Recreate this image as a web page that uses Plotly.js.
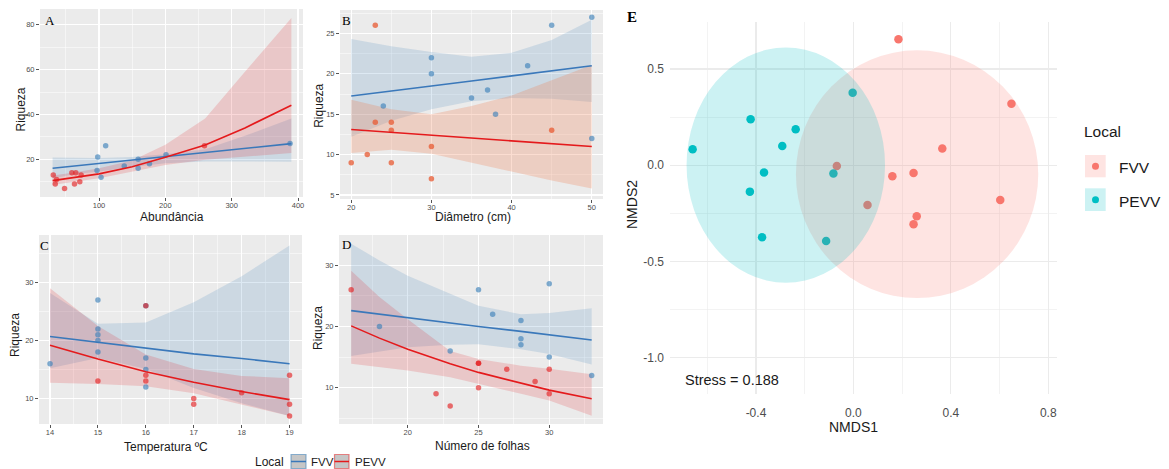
<!DOCTYPE html>
<html><head><meta charset="utf-8">
<script src="https://cdn.plot.ly/plotly-3.0.1.min.js"></script>
<style>html,body{margin:0;padding:0;background:#fff}#chart{width:1169px;height:469px}</style>
</head><body><div id="chart"></div>
<script>
// ---------- Panel A : Riqueza vs Abundância ----------
const aFvvX=[97,98,103,110,138,159,159,176,201,388];
const aFvvY=[15,21,12,26,17,20,16,18,22,27];
const aPevvX=[31,34,36,48,59,63,65,71,73,259];
const aPevvY=[13,9,11,7,14,9,14,10,13,26];
const aFitX=[30,60,100,150,200,260,320,390];
const aFvvFit=[16,16.9,18.1,19.7,21.2,23.0,24.9,27.0];
const aFvvLo=[11.5,13.2,14.6,16.6,18.2,19.0,19.0,18.9];
const aFvvHi=[20.8,20.7,20.6,21.0,22.3,24.5,30.5,38.2];
const aPevvFit=[10.5,11.7,13.5,16.7,20.9,26.4,34.0,44.1];
const aPevvLo=[8.6,9.9,11.6,14.5,17.5,19.8,21.3,22.8];
const aPevvHi=[12.8,14.0,16.0,19.5,26.5,38.2,59.0,83.0];

// ---------- Panel B : Riqueza vs Diâmetro ----------
const bFvvX=[24,30,30,35,37,38,42,45,50,50];
const bFvvY=[16,22,20,17,18,15,21,26,27,12];
const bPevvX=[20,22,23,23,25,25,25,30,30,45];
const bPevvY=[9,10,26,14,14,13,9,11,7,13];
const bFitX=[20,25,30,35,40,45,50];
const bFvvFit=[17.25,17.9,18.5,19.1,19.75,20.4,21.0];
const bFvvLo=[12.2,14.2,15.6,16.6,17.0,16.9,16.5];
const bFvvHi=[24.3,23.4,22.7,22.1,22.6,24.2,26.7];
const bPevvFit=[13.1,12.75,12.4,12.05,11.7,11.35,11.0];
const bPevvLo=[10.2,10.6,10.1,9.0,7.9,6.8,5.8];
const bPevvHi=[16.8,15.6,15.0,16.0,17.3,19.2,21.1];

// ---------- Panel C : Riqueza vs Temperatura ----------
const cFvvX=[14,15,15,15,15,15,16,16,16,16];
const cFvvY=[16,27,22,21,20,18,26,17,15,12];
const cPevvX=[15,16,16,16,17,17,18,19,19,19];
const cPevvY=[13,26,14,13,10,9,11,14,9,7];
const cFitX=[14,15,16,17,18,19];
const cFvvFit=[20.7,19.7,18.7,17.7,16.9,16.0];
const cFvvLo=[15.2,17.0,15.1,11.8,9.2,7.0];
const cFvvHi=[28.2,22.9,23.1,26.6,31.1,36.4];
const cPevvFit=[19.2,16.8,14.6,12.8,11.2,9.8];
const cPevvLo=[12.7,12.5,12.1,10.9,9.0,7.0];
const cPevvHi=[29.0,22.5,17.6,15.1,13.9,13.5];

// ---------- Panel D : Riqueza vs Número de folhas ----------
const dFvvX=[18,23,25,26,28,28,28,30,30,33];
const dFvvY=[20,16,26,22,21,18,17,27,15,12];
const dPevvX=[16,22,23,25,25,25,27,29,30,30];
const dPevvY=[26,9,7,14,14,10,13,11,13,9];
const dFitX=[16,18,20,23,25,28,30,33];
const dFvvFit=[22.6,22.0,21.5,20.6,20.0,19.2,18.6,17.8];
const dFvvLo=[15.2,15.9,16.6,17.0,17.1,16.3,15.5,13.8];
const dFvvHi=[33.5,30.8,28.3,25.3,23.4,22.0,22.2,23.0];
const dPevvFit=[20.1,18.1,16.3,13.9,12.5,10.7,9.6,8.2];
const dPevvLo=[13.9,13.3,12.8,11.7,10.6,9.0,7.9,5.4];
const dPevvHi=[29.1,24.8,21.2,16.0,14.7,13.6,13.1,12.2];

// ---------- Panel E : NMDS ----------
const eFvvX=[0.185,0.649,0.365,0.247,0.16,-0.068,0.058,0.603,0.26,0.247];
const eFvvY=[0.654,0.32,0.087,-0.04,-0.057,-0.004,-0.206,-0.18,-0.265,-0.306];
const ePevvX=[-0.66,-0.422,-0.237,-0.292,-0.003,-0.367,-0.425,-0.082,-0.375,-0.112];
const ePevvY=[0.083,0.239,0.187,0.1,0.377,-0.038,-0.137,-0.043,-0.374,-0.393];
const eFvvEllX=[-0.236,0.759], eFvvEllY=[-0.69,0.597];
const ePevvEllX=[-0.685,0.13], ePevvEllY=[-0.61,0.611];
const eXTicks=[-0.4,0,0.4,0.8], eXTickText=['-0.4','0.0','0.4','0.8'];
const eYTicks=[-1,-0.5,0,0.5], eYTickText=['-1.0','-0.5','0.0','0.5'];
const groups=['FVV','PEVV'];
const stressText='Stress = 0.188';

// ---------- layout helpers ----------
const W=1169,H=469;
const SANS='Liberation Sans, Arial, sans-serif';
const SERIF='Liberation Serif, Times New Roman, serif';
const fx=p=>p/W, fy=p=>1-p/H;
const BLUE='#3a78ba', RED='#e41a1c';

function ribbon(xs,lo,hi,xa,ya,fill){
  return {type:'scatter',mode:'lines',x:xs.concat(xs.slice().reverse()),
    y:hi.concat(lo.slice().reverse()),fill:'toself',fillcolor:fill,
    line:{width:0,color:'rgba(0,0,0,0)'},hoverinfo:'skip',xaxis:xa,yaxis:ya,showlegend:false};
}
function pts(xs,ys,xa,ya,col,size){
  return {type:'scatter',mode:'markers',x:xs,y:ys,xaxis:xa,yaxis:ya,showlegend:false,
    marker:{color:col,size:size,line:{width:0}}};
}
function line(xs,ys,xa,ya,col){
  return {type:'scatter',mode:'lines',x:xs,y:ys,xaxis:xa,yaxis:ya,showlegend:false,
    line:{color:col,width:1.6}};
}
function panel(xa,ya,fitX,fFit,fLo,fHi,pFit,pLo,pHi,fX,fY,pX,pY,pCol,pRib){
  return [
    ribbon(fitX,fLo,fHi,xa,ya,'rgba(55,126,184,0.17)'),
    ribbon(fitX,pLo,pHi,xa,ya,pRib),
    pts(fX,fY,xa,ya,'rgba(55,126,184,0.62)',5.5),
    pts(pX,pY,xa,ya,pCol,5.5),
    line(fitX,fFit,xa,ya,BLUE),
    line(fitX,pFit,xa,ya,RED)
  ];
}
const redPt='rgba(228,26,28,0.62)', redRib='rgba(228,26,28,0.17)';
const orPt='rgba(232,90,50,0.75)', orRib='rgba(240,120,70,0.25)';

let data=[];
data=data.concat(panel('x','y',aFitX,aFvvFit,aFvvLo,aFvvHi,aPevvFit,aPevvLo,aPevvHi,aFvvX,aFvvY,aPevvX,aPevvY,redPt,redRib));
data=data.concat(panel('x2','y2',bFitX,bFvvFit,bFvvLo,bFvvHi,bPevvFit,bPevvLo,bPevvHi,bFvvX,bFvvY,bPevvX,bPevvY,orPt,orRib));
data=data.concat(panel('x3','y3',cFitX,cFvvFit,cFvvLo,cFvvHi,cPevvFit,cPevvLo,cPevvHi,cFvvX,cFvvY,cPevvX,cPevvY,redPt,redRib));
data=data.concat(panel('x4','y4',dFitX,dFvvFit,dFvvLo,dFvvHi,dPevvFit,dPevvLo,dPevvHi,dFvvX,dFvvY,dPevvX,dPevvY,redPt,redRib));
data.push(pts(eFvvX,eFvvY,'x5','y5','#F8766D',8.5));
data.push(pts(ePevvX,ePevvY,'x5','y5','#00BFC4',8.5));

const boxes={A:[40,303,9,197],B:[340,603,10,199],C:[39,302,235,424],D:[339,603,235,424],E:[670,1057,22,394]};
function ggAx(isX,box,range,dtick,mdtick,anchor){
  return {domain:isX?[fx(box[0]),fx(box[1])]:[fy(box[3]),fy(box[2])],range:range,anchor:anchor,
    tick0:0,dtick:dtick,ticks:'outside',ticklen:3,tickwidth:1,tickcolor:'#555',
    ticklabelstandoff:isX?-2:0,
    tickfont:{family:SANS,size:7.5,color:'#4d4d4d'},showgrid:true,gridcolor:'#ffffff',gridwidth:1.1,
    zeroline:false,showline:false,fixedrange:true,
    minor:{tick0:0,dtick:mdtick,showgrid:true,gridcolor:'#ffffff',gridwidth:0.5,ticks:''}};
}
const layout={
  width:W,height:H,margin:{l:0,r:0,t:0,b:0},paper_bgcolor:'#ffffff',plot_bgcolor:'rgba(0,0,0,0)',
  showlegend:false,font:{family:SANS},
  xaxis:ggAx(true,boxes.A,[11,407.5],100,50,'y'),
  yaxis:ggAx(false,boxes.A,[3.2,87],20,10,'x'),
  xaxis2:ggAx(true,boxes.B,[18.6,51.4],10,5,'y2'),
  yaxis2:ggAx(false,boxes.B,[4.5,27.9],5,2.5,'x2'),
  xaxis3:ggAx(true,boxes.C,[13.77,19.26],1,0.5,'y3'),
  yaxis3:ggAx(false,boxes.C,[5.6,38.2],10,5,'x3'),
  xaxis4:ggAx(true,boxes.D,[15.14,33.8],5,2.5,'y4'),
  yaxis4:ggAx(false,boxes.D,[4.07,34.95],10,5,'x4'),
  xaxis5:{domain:[fx(boxes.E[0]),fx(boxes.E[1])],range:[-0.753,0.836],anchor:'y5',
    tickmode:'array',tickvals:eXTicks,ticktext:eXTickText,ticks:'',ticklabelstandoff:10,
    tickfont:{family:SANS,size:12,color:'#4d4d4d'},showgrid:true,gridcolor:'#ebebeb',gridwidth:1.1,
    zeroline:false,showline:false,fixedrange:true,
    minor:{tick0:0,dtick:0.2,showgrid:true,gridcolor:'#ebebeb',gridwidth:0.6,ticks:''}},
  yaxis5:{domain:[fy(boxes.E[3]),fy(boxes.E[2])],range:[-1.188,0.744],anchor:'x5',
    tickmode:'array',tickvals:eYTicks,ticktext:eYTickText,ticks:'',ticklabelstandoff:5,
    tickfont:{family:SANS,size:12,color:'#4d4d4d'},showgrid:true,gridcolor:'#ebebeb',gridwidth:1.1,
    zeroline:false,showline:false,fixedrange:true,
    minor:{tick0:0,dtick:0.25,showgrid:true,gridcolor:'#ebebeb',gridwidth:0.6,ticks:''}},
  shapes:[],annotations:[]
};
// grey panel backgrounds
[['x','y'],['x2','y2'],['x3','y3'],['x4','y4']].forEach(p=>{
  layout.shapes.push({type:'rect',xref:p[0]+' domain',yref:p[1]+' domain',x0:0,x1:1,y0:0,y1:1,
    fillcolor:'#ebebeb',line:{width:0},layer:'below'});
});
// NMDS ellipses
layout.shapes.push({type:'circle',xref:'x5',yref:'y5',x0:eFvvEllX[0],x1:eFvvEllX[1],y0:eFvvEllY[0],y1:eFvvEllY[1],
  fillcolor:'rgba(248,118,109,0.2)',line:{width:0},layer:'above'});
layout.shapes.push({type:'circle',xref:'x5',yref:'y5',x0:ePevvEllX[0],x1:ePevvEllX[1],y0:ePevvEllY[0],y1:ePevvEllY[1],
  fillcolor:'rgba(0,191,196,0.2)',line:{width:0},layer:'above'});

function txt(t,x,y,o){
  layout.annotations.push(Object.assign({text:t,xref:'paper',yref:'paper',x:fx(x),y:fy(y),
    showarrow:false,xanchor:'center',yanchor:'middle',font:{family:SANS,size:12,color:'#1a1a1a'}},o||{}));
}
// panel letters
txt('A',49.7,20.7,{font:{family:SERIF,size:13,color:'#000'}});
txt('B',346,20.5,{font:{family:SERIF,size:13,color:'#000'}});
txt('C',44.7,245.7,{font:{family:SERIF,size:13,color:'#000'}});
txt('D',346.3,244.8,{font:{family:SERIF,size:13,color:'#000'}});
txt('<b>E</b>',631.7,17.3,{font:{family:SERIF,size:15,color:'#000'}});
// axis titles
txt('Abundância',171.5,217);
txt('Riqueza',20,109.5,{textangle:-90});
txt('Diâmetro (cm)',473.2,217);
txt('Riqueza',319.5,106.3,{textangle:-90});
txt('Temperatura ºC',165.8,446.7);
txt('Riqueza',15,335,{textangle:-90});
txt('Número de folhas',482.5,445.7);
txt('Riqueza',318,328,{textangle:-90});
txt('NMDS1',853,427.3,{font:{family:SANS,size:14,color:'#1a1a1a'}});
txt('NMDS2',632,205,{textangle:-90,font:{family:SANS,size:14,color:'#1a1a1a'}});
txt(stressText,682.7,380,{xanchor:'left',font:{family:SANS,size:14.5,color:'#1a1a1a'}});
// bottom legend (A-D)
txt('Local',253,461.7,{xanchor:'left'});
const legKeys=[[291,306,BLUE,'rgba(55,126,184,0.55)',309],[334.5,349,RED,'rgba(228,26,28,0.5)',352.5]];
legKeys.forEach((k,i)=>{
  layout.shapes.push({type:'rect',xref:'paper',yref:'paper',x0:fx(k[0]),x1:fx(k[1]),y0:fy(468.5),y1:fy(454.5),
    fillcolor:'#c6c6c6',line:{color:k[3],width:1.2}});
  layout.shapes.push({type:'line',xref:'paper',yref:'paper',x0:fx(k[0]),x1:fx(k[1]),y0:fy(461.5),y1:fy(461.5),
    line:{color:k[2],width:1.5}});
  txt(groups[i],k[4],461.7,{xanchor:'left',font:{family:SANS,size:11.5,color:'#1a1a1a'}});
});
// NMDS legend
txt('Local',1081.7,131.7,{xanchor:'left',font:{family:SANS,size:15.5,color:'#1a1a1a'}});
const eKeys=[[155,177.3,'rgba(248,118,109,0.2)','#F8766D',167.3],[188.3,211,'rgba(0,191,196,0.2)','#00BFC4',201.2]];
eKeys.forEach((k,i)=>{
  layout.shapes.push({type:'rect',xref:'paper',yref:'paper',x0:fx(1085),x1:fx(1105.7),y0:fy(k[1]),y1:fy(k[0]),
    fillcolor:k[2],line:{width:0}});
  const cy=(k[0]+k[1])/2;
  layout.shapes.push({type:'circle',xref:'paper',yref:'paper',x0:fx(1092),x1:fx(1099),y0:fy(cy+3.5),y1:fy(cy-3.5),
    fillcolor:k[3],line:{width:0}});
  txt(groups[i],1116.7,k[4],{xanchor:'left',font:{family:SANS,size:15.5,color:'#1a1a1a'}});
});

Plotly.newPlot('chart',data,layout,{displayModeBar:false,staticPlot:true});
</script></body></html>
